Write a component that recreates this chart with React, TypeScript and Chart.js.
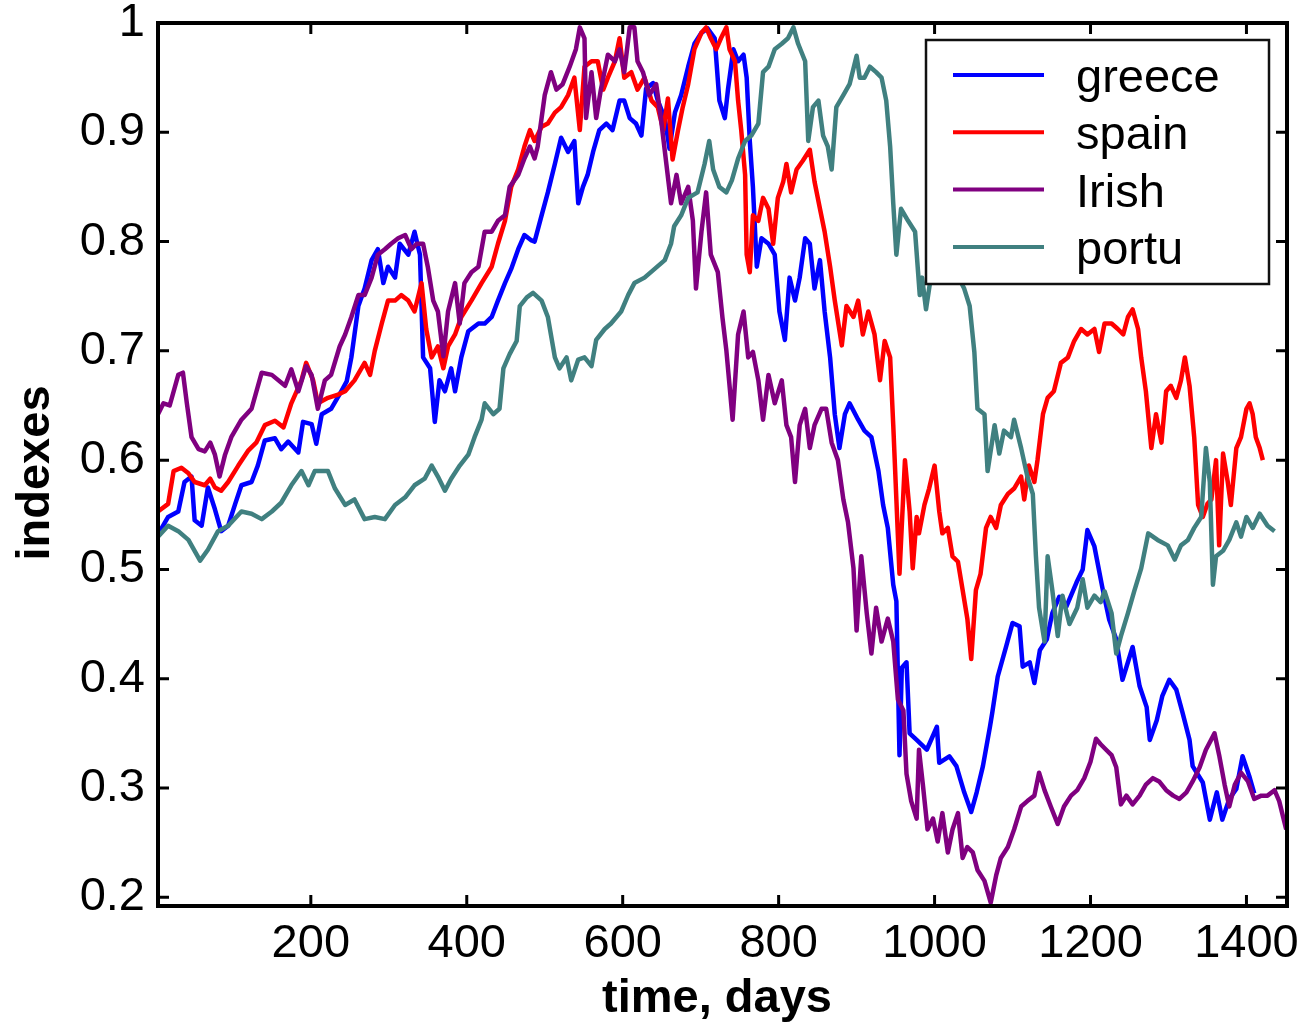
import React, { useEffect, useRef } from "react";
import { Chart, registerables } from "chart.js";

Chart.register(...registerables);

const xTicks = [200, 400, 600, 800, 1000, 1200, 1400];
const yTicks = [0.2, 0.3, 0.4, 0.5, 0.6, 0.7, 0.8, 0.9, 1.0];
const xTitle = "time, days";
const yTitle = "indexes";
const seriesNames = ["greece", "spain", "Irish", "portu"];
const seriesColors = ["#0000ff", "#ff0000", "#800080", "#408080"];

const greeceDays = [4, 17, 30, 38, 47, 51, 60, 68, 77, 85, 94, 103, 111, 124, 132, 141, 154, 162, 171, 184, 190, 201, 207, 214, 226, 239, 246, 252, 261, 269, 278, 286, 293, 299, 308, 314, 325, 333, 340, 344, 353, 359, 365, 372, 380, 385, 393, 402, 415, 423, 432, 440, 449, 457, 466, 474, 483, 487, 496, 504, 513, 521, 530, 538, 543, 549, 555, 562, 570, 579, 587, 596, 602, 609, 617, 624, 630, 639, 645, 654, 660, 667, 675, 684, 692, 701, 709, 718, 724, 731, 735, 742, 748, 755, 759, 763, 767, 772, 778, 787, 795, 801, 808, 814, 821, 827, 834, 840, 846, 853, 859, 866, 872, 878, 885, 891, 902, 910, 919, 928, 934, 940, 947, 951, 955, 958, 964, 968, 977, 990, 1003, 1006, 1019, 1028, 1038, 1047, 1054, 1062, 1071, 1074, 1081, 1092, 1100, 1109, 1113, 1122, 1128, 1135, 1144, 1151, 1160, 1169, 1182, 1190, 1196, 1205, 1215, 1224, 1233, 1241, 1254, 1263, 1272, 1276, 1285, 1292, 1301, 1310, 1318, 1327, 1331, 1344, 1353, 1362, 1369, 1378, 1387, 1395, 1404, 1410];
const greeceValues = [0.532, 0.548, 0.553, 0.58, 0.585, 0.545, 0.54, 0.575, 0.555, 0.535, 0.54, 0.56, 0.577, 0.58, 0.595, 0.618, 0.62, 0.61, 0.617, 0.607, 0.635, 0.633, 0.615, 0.642, 0.647, 0.663, 0.672, 0.694, 0.741, 0.757, 0.783, 0.793, 0.762, 0.777, 0.767, 0.798, 0.788, 0.809, 0.788, 0.694, 0.684, 0.635, 0.673, 0.663, 0.684, 0.663, 0.694, 0.718, 0.725, 0.725, 0.731, 0.746, 0.762, 0.775, 0.793, 0.806, 0.801, 0.8, 0.824, 0.845, 0.871, 0.895, 0.882, 0.892, 0.835, 0.85, 0.861, 0.882, 0.902, 0.908, 0.902, 0.929, 0.929, 0.913, 0.908, 0.897, 0.94, 0.945, 0.929, 0.913, 0.885, 0.918, 0.934, 0.96, 0.981, 0.991, 0.995, 0.986, 0.929, 0.913, 0.939, 0.976, 0.965, 0.971, 0.95, 0.892, 0.85, 0.777, 0.803, 0.798, 0.788, 0.736, 0.71, 0.767, 0.746, 0.767, 0.803, 0.798, 0.757, 0.783, 0.736, 0.694, 0.642, 0.611, 0.642, 0.652, 0.637, 0.627, 0.621, 0.59, 0.559, 0.538, 0.486, 0.471, 0.33, 0.41, 0.415, 0.35, 0.344, 0.335, 0.356, 0.323, 0.329, 0.32, 0.296, 0.278, 0.296, 0.32, 0.356, 0.369, 0.402, 0.43, 0.451, 0.448, 0.411, 0.415, 0.396, 0.426, 0.436, 0.46, 0.475, 0.466, 0.488, 0.5, 0.536, 0.521, 0.484, 0.454, 0.436, 0.399, 0.429, 0.393, 0.374, 0.344, 0.362, 0.384, 0.399, 0.39, 0.369, 0.344, 0.32, 0.305, 0.271, 0.296, 0.271, 0.29, 0.299, 0.329, 0.31, 0.295];

const spainDays = [4, 17, 24, 34, 43, 51, 64, 71, 77, 85, 94, 107, 120, 130, 141, 154, 165, 175, 188, 194, 203, 209, 222, 235, 244, 256, 269, 276, 282, 291, 299, 308, 316, 325, 333, 342, 348, 355, 363, 370, 376, 385, 393, 406, 419, 432, 440, 449, 457, 466, 474, 481, 487, 496, 504, 513, 521, 530, 538, 545, 551, 560, 568, 575, 581, 590, 596, 602, 611, 619, 628, 637, 645, 652, 658, 664, 671, 677, 684, 692, 701, 707, 713, 720, 726, 733, 737, 744, 748, 752, 757, 759, 763, 767, 774, 780, 787, 793, 799, 806, 810, 816, 823, 831, 840, 846, 853, 859, 866, 872, 881, 887, 896, 902, 908, 915, 923, 930, 936, 943, 947, 951, 955, 962, 968, 972, 977, 980, 987, 993, 1000, 1006, 1010, 1017, 1023, 1030, 1036, 1042, 1047, 1053, 1059, 1066, 1072, 1079, 1085, 1094, 1102, 1111, 1115, 1121, 1128, 1132, 1139, 1145, 1153, 1162, 1171, 1179, 1188, 1196, 1205, 1211, 1218, 1227, 1235, 1242, 1248, 1254, 1261, 1265, 1271, 1278, 1284, 1291, 1297, 1303, 1310, 1316, 1321, 1327, 1333, 1338, 1344, 1350, 1355, 1361, 1365, 1370, 1376, 1380, 1387, 1393, 1400, 1404, 1408, 1412, 1417, 1421];
const spainValues = [0.553, 0.56, 0.59, 0.593, 0.588, 0.58, 0.577, 0.583, 0.575, 0.572, 0.58, 0.595, 0.609, 0.616, 0.632, 0.636, 0.63, 0.652, 0.673, 0.689, 0.673, 0.652, 0.657, 0.66, 0.663, 0.673, 0.689, 0.678, 0.7, 0.725, 0.746, 0.746, 0.751, 0.746, 0.736, 0.762, 0.72, 0.694, 0.704, 0.684, 0.704, 0.715, 0.731, 0.746, 0.762, 0.777, 0.798, 0.819, 0.85, 0.866, 0.887, 0.902, 0.892, 0.905, 0.908, 0.918, 0.923, 0.934, 0.95, 0.902, 0.96, 0.965, 0.965, 0.939, 0.95, 0.965, 0.986, 0.95, 0.955, 0.939, 0.95, 0.929, 0.923, 0.902, 0.931, 0.875, 0.902, 0.923, 0.944, 0.976, 0.991, 0.996, 0.986, 0.976, 0.986, 0.996, 0.976, 0.965, 0.929, 0.902, 0.861, 0.788, 0.772, 0.824, 0.819, 0.84, 0.83, 0.798, 0.84, 0.855, 0.871, 0.845, 0.866, 0.874, 0.884, 0.855, 0.83, 0.809, 0.777, 0.746, 0.705, 0.741, 0.731, 0.746, 0.715, 0.736, 0.715, 0.673, 0.709, 0.694, 0.632, 0.564, 0.496, 0.6, 0.553, 0.501, 0.548, 0.533, 0.559, 0.574, 0.595, 0.553, 0.533, 0.538, 0.512, 0.507, 0.481, 0.455, 0.418, 0.481, 0.496, 0.538, 0.548, 0.538, 0.559, 0.569, 0.574, 0.585, 0.564, 0.595, 0.58, 0.6, 0.642, 0.657, 0.663, 0.689, 0.694, 0.709, 0.72, 0.715, 0.72, 0.699, 0.725, 0.725, 0.72, 0.715, 0.731, 0.738, 0.72, 0.694, 0.663, 0.611, 0.642, 0.616, 0.663, 0.668, 0.657, 0.673, 0.694, 0.668, 0.621, 0.559, 0.548, 0.56, 0.564, 0.6, 0.522, 0.606, 0.58, 0.559, 0.611, 0.621, 0.647, 0.652, 0.642, 0.621, 0.611, 0.6];

const irishDays = [4, 11, 19, 30, 36, 41, 47, 56, 64, 71, 77, 83, 90, 98, 111, 124, 137, 150, 167, 175, 184, 194, 201, 209, 218, 226, 237, 244, 252, 261, 269, 278, 286, 295, 303, 312, 321, 329, 336, 344, 350, 357, 363, 370, 376, 385, 391, 397, 406, 415, 423, 432, 440, 449, 455, 466, 474, 481, 487, 491, 500, 508, 515, 523, 532, 540, 545, 551, 553, 560, 566, 572, 581, 590, 596, 602, 609, 615, 619, 626, 634, 643, 649, 656, 662, 669, 675, 684, 690, 694, 701, 707, 713, 722, 728, 733, 741, 748, 755, 761, 767, 774, 780, 787, 795, 804, 810, 816, 821, 827, 834, 840, 846, 855, 861, 868, 876, 883, 889, 896, 900, 906, 913, 919, 925, 932, 940, 947, 953, 960, 964, 970, 977, 980, 985, 991, 998, 1004, 1010, 1017, 1023, 1030, 1036, 1042, 1049, 1055, 1064, 1072, 1079, 1085, 1094, 1102, 1111, 1119, 1128, 1134, 1141, 1149, 1158, 1166, 1175, 1183, 1192, 1200, 1207, 1213, 1220, 1227, 1233, 1239, 1246, 1254, 1263, 1271, 1280, 1288, 1297, 1306, 1314, 1323, 1331, 1340, 1348, 1359, 1365, 1372, 1378, 1385, 1393, 1402, 1410, 1419, 1427, 1436, 1442, 1451];
const irishValues = [0.642, 0.652, 0.65, 0.678, 0.68, 0.652, 0.621, 0.61, 0.608, 0.616, 0.605, 0.585, 0.605, 0.621, 0.637, 0.647, 0.68, 0.678, 0.668, 0.683, 0.663, 0.686, 0.678, 0.647, 0.673, 0.678, 0.704, 0.715, 0.731, 0.751, 0.751, 0.767, 0.788, 0.793, 0.798, 0.803, 0.806, 0.793, 0.798, 0.798, 0.777, 0.746, 0.736, 0.695, 0.736, 0.762, 0.725, 0.762, 0.772, 0.777, 0.809, 0.809, 0.819, 0.824, 0.85, 0.861, 0.876, 0.887, 0.876, 0.887, 0.934, 0.955, 0.939, 0.944, 0.96, 0.976, 0.996, 0.986, 0.913, 0.955, 0.913, 0.939, 0.971, 0.965, 0.976, 0.955, 0.996, 0.996, 0.965, 0.955, 0.934, 0.944, 0.913, 0.871, 0.835, 0.861, 0.835, 0.85, 0.819, 0.757, 0.809, 0.845, 0.788, 0.772, 0.73, 0.7, 0.637, 0.715, 0.736, 0.694, 0.699, 0.673, 0.637, 0.678, 0.652, 0.673, 0.632, 0.621, 0.58, 0.632, 0.647, 0.611, 0.632, 0.647, 0.647, 0.616, 0.6, 0.564, 0.543, 0.501, 0.444, 0.512, 0.46, 0.423, 0.465, 0.434, 0.455, 0.434, 0.381, 0.371, 0.313, 0.288, 0.272, 0.335, 0.303, 0.262, 0.272, 0.251, 0.277, 0.241, 0.262, 0.277, 0.236, 0.246, 0.241, 0.225, 0.215, 0.195, 0.22, 0.236, 0.246, 0.262, 0.283, 0.288, 0.293, 0.314, 0.298, 0.283, 0.267, 0.283, 0.293, 0.298, 0.309, 0.324, 0.345, 0.34, 0.335, 0.33, 0.319, 0.285, 0.293, 0.285, 0.293, 0.303, 0.309, 0.306, 0.298, 0.293, 0.29, 0.296, 0.306, 0.319, 0.335, 0.35, 0.33, 0.303, 0.283, 0.303, 0.314, 0.306, 0.29, 0.293, 0.293, 0.298, 0.288, 0.262];

const portuDays = [4, 17, 30, 43, 58, 68, 81, 94, 111, 124, 137, 150, 162, 175, 188, 197, 205, 222, 231, 244, 256, 269, 282, 295, 308, 321, 333, 346, 355, 363, 372, 380, 391, 402, 410, 419, 423, 434, 442, 447, 455, 464, 468, 477, 485, 496, 504, 513, 519, 528, 534, 543, 551, 560, 566, 577, 585, 598, 607, 615, 628, 641, 654, 662, 666, 675, 684, 696, 705, 711, 716, 724, 733, 740, 748, 757, 765, 774, 780, 787, 795, 804, 812, 819, 825, 834, 838, 844, 851, 857, 863, 868, 874, 883, 891, 900, 904, 910, 917, 925, 932, 938, 943, 947, 951, 957, 966, 975, 981, 984, 989, 1000, 1012, 1025, 1038, 1045, 1051, 1055, 1064, 1068, 1077, 1083, 1089, 1098, 1102, 1111, 1119, 1126, 1130, 1134, 1141, 1145, 1151, 1158, 1164, 1173, 1183, 1190, 1196, 1205, 1213, 1218, 1227, 1233, 1239, 1248, 1256, 1265, 1274, 1286, 1299, 1308, 1316, 1325, 1333, 1342, 1348, 1353, 1357, 1361, 1370, 1378, 1387, 1393, 1400, 1408, 1417, 1427, 1436];
const portuValues = [0.53, 0.54, 0.535, 0.527, 0.508, 0.518, 0.535, 0.54, 0.553, 0.551, 0.546, 0.553, 0.561, 0.577, 0.59, 0.577, 0.59, 0.59, 0.574, 0.559, 0.564, 0.546, 0.548, 0.546, 0.559, 0.566, 0.577, 0.583, 0.595, 0.585, 0.572, 0.583, 0.595, 0.605, 0.621, 0.637, 0.652, 0.642, 0.647, 0.684, 0.697, 0.709, 0.741, 0.749, 0.753, 0.746, 0.731, 0.694, 0.684, 0.694, 0.673, 0.692, 0.694, 0.686, 0.71, 0.72, 0.725, 0.736, 0.751, 0.762, 0.767, 0.775, 0.783, 0.798, 0.814, 0.824, 0.84, 0.845, 0.871, 0.892, 0.866, 0.85, 0.845, 0.856, 0.876, 0.892, 0.897, 0.908, 0.955, 0.96, 0.976, 0.981, 0.986, 0.996, 0.981, 0.965, 0.892, 0.923, 0.929, 0.897, 0.887, 0.866, 0.923, 0.934, 0.944, 0.97, 0.95, 0.95, 0.96, 0.955, 0.95, 0.929, 0.887, 0.835, 0.788, 0.83, 0.819, 0.809, 0.751, 0.767, 0.738, 0.79, 0.785, 0.775, 0.757, 0.741, 0.699, 0.647, 0.642, 0.59, 0.632, 0.606, 0.627, 0.621, 0.637, 0.611, 0.585, 0.569, 0.512, 0.465, 0.434, 0.512, 0.481, 0.439, 0.476, 0.45, 0.465, 0.491, 0.465, 0.476, 0.47, 0.48, 0.46, 0.423, 0.439, 0.46, 0.48, 0.501, 0.533, 0.527, 0.522, 0.509, 0.522, 0.527, 0.538, 0.548, 0.611, 0.58, 0.486, 0.512, 0.517, 0.527, 0.543, 0.53, 0.548, 0.538, 0.551, 0.54, 0.535];

const X_MIN = 4;
const X_MAX = 1452;
const Y_MIN = 0.192;
const Y_MAX = 1.0;

const FONT = "'Liberation Sans', Arial, Helvetica, sans-serif";

function toPoints(days: number[], values: number[]) {
  return days.map((d, i) => ({ x: d, y: values[i] }));
}

const framePlugin = {
  id: "matlabFrame",
  afterDatasetsDraw(chart: any) {
    const { ctx, chartArea: a, scales } = chart;
    const xs = scales.x;
    const ys = scales.y;
    ctx.save();
    ctx.strokeStyle = "#000";
    ctx.lineCap = "butt";
    const tl = 11;
    ctx.lineWidth = 3;
    ctx.beginPath();
    for (const v of xTicks) {
      const px = xs.getPixelForValue(v);
      ctx.moveTo(px, a.bottom);
      ctx.lineTo(px, a.bottom - tl);
      ctx.moveTo(px, a.top);
      ctx.lineTo(px, a.top + tl);
    }
    for (const v of yTicks) {
      const py = ys.getPixelForValue(v);
      ctx.moveTo(a.left, py);
      ctx.lineTo(a.left + tl, py);
      ctx.moveTo(a.right, py);
      ctx.lineTo(a.right - tl, py);
    }
    ctx.stroke();
    ctx.lineWidth = 4;
    ctx.strokeRect(a.left, a.top, a.right - a.left, a.bottom - a.top);

    const bx = a.right - 361;
    const by = a.top + 17;
    const bw = 343;
    const bh = 244;
    ctx.fillStyle = "#fff";
    ctx.fillRect(bx, by, bw, bh);
    ctx.lineWidth = 2.5;
    ctx.strokeStyle = "#111";
    ctx.strokeRect(bx, by, bw, bh);
    ctx.font = `47px ${FONT}`;
    ctx.textAlign = "left";
    ctx.textBaseline = "alphabetic";
    seriesNames.forEach((name, i) => {
      const ry = by + 35 + i * 57.3;
      ctx.strokeStyle = seriesColors[i];
      ctx.lineWidth = 4;
      ctx.beginPath();
      ctx.moveTo(bx + 27, ry);
      ctx.lineTo(bx + 118, ry);
      ctx.stroke();
      ctx.fillStyle = "#000";
      ctx.fillText(name, bx + 150, ry + 17);
    });

    ctx.fillStyle = "#000";
    ctx.font = `bold 47px ${FONT}`;
    ctx.textAlign = "center";
    ctx.textBaseline = "alphabetic";
    ctx.fillText(xTitle, 717, 1012);
    ctx.save();
    ctx.translate(49, 473);
    ctx.rotate(-Math.PI / 2);
    ctx.fillText(yTitle, 0, 0);
    ctx.restore();
    ctx.restore();
  },
};

export default function App() {
  const canvasRef = useRef<HTMLCanvasElement | null>(null);

  useEffect(() => {
    const canvas = canvasRef.current;
    if (!canvas) return;
    const allDays = [greeceDays, spainDays, irishDays, portuDays];
    const allValues = [greeceValues, spainValues, irishValues, portuValues];
    const chart = new Chart(canvas, {
      type: "line",
      data: {
        datasets: seriesNames.map((name, i) => ({
          label: name,
          data: toPoints(allDays[i], allValues[i]),
          borderColor: seriesColors[i],
          backgroundColor: seriesColors[i],
          borderWidth: 4.5,
          pointRadius: 0,
          tension: 0,
          fill: false,
          borderJoinStyle: "round" as const,
          order: seriesNames.length - 1 - i,
        })),
      },
      options: {
        animation: false,
        responsive: false,
        devicePixelRatio: 1,
        parsing: false as any,
        layout: { padding: { left: 0, right: 26, top: 23, bottom: 0 } },
        plugins: {
          legend: { display: false },
          tooltip: { enabled: false },
          title: { display: false },
        },
        scales: {
          x: {
            type: "linear",
            min: X_MIN,
            max: X_MAX,
            grid: { display: false, drawTicks: false },
            border: { display: false },
            afterBuildTicks: (scale: any) => {
              scale.ticks = xTicks.map((v) => ({ value: v }));
            },
            afterFit: (scale: any) => {
              scale.height = 124;
              scale.paddingLeft = 0;
              scale.paddingRight = 0;
            },
            ticks: {
              autoSkip: false,
              maxRotation: 0,
              padding: 10,
              color: "#000",
              font: { family: FONT, size: 47 },
              callback: (v: any) => String(v),
            },
          },
          y: {
            type: "linear",
            min: Y_MIN,
            max: Y_MAX,
            grid: { display: false, drawTicks: false },
            border: { display: false },
            afterBuildTicks: (scale: any) => {
              scale.ticks = yTicks.map((v) => ({ value: v }));
            },
            afterFit: (scale: any) => {
              scale.width = 158;
              scale.paddingTop = 0;
              scale.paddingBottom = 0;
            },
            ticks: {
              autoSkip: false,
              padding: 13,
              color: "#000",
              font: { family: FONT, size: 47 },
              callback: (v: any) => String(Number(Number(v).toFixed(1))),
            },
          },
        },
      },
      plugins: [framePlugin],
    });
    return () => chart.destroy();
  }, []);

  return (
    <div style={{ position: "absolute", left: 0, top: 0, width: 1313, height: 1030, background: "#fff" }}>
      <canvas ref={canvasRef} width={1313} height={1030} style={{ display: "block" }} />
    </div>
  );
}
